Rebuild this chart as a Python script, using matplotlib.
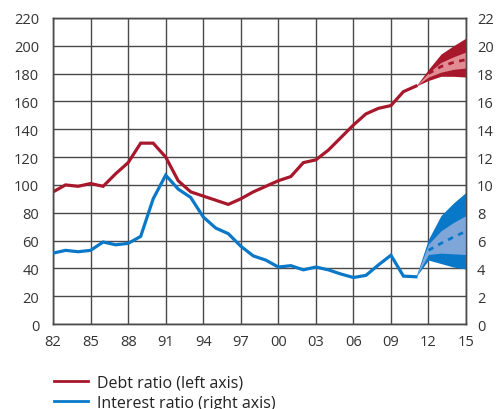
import matplotlib
matplotlib.use("Agg")
import matplotlib.pyplot as plt
from matplotlib.lines import Line2D

plt.rcParams['font.family'] = ['Open Sans', 'DejaVu Sans']

# historical data
years = list(range(1982, 2012))
debt = [95, 100, 99, 101, 99, 108, 116, 130, 130, 120, 103, 95, 92, 89, 86,
        90, 95, 99, 103, 106, 116, 118, 125, 134, 143, 151, 155, 157, 167, 171]
interest = [5.1, 5.3, 5.2, 5.3, 5.9, 5.7, 5.8, 6.3, 9.0, 10.7, 9.7, 9.1, 7.7, 6.9, 6.5,
            5.6, 4.9, 4.6, 4.1, 4.2, 3.9, 4.1, 3.9, 3.6, 3.35, 3.5, 4.25, 4.95, 3.45, 3.4]

# projections (fan), starting at 2011
fc_years = [2011, 2012, 2013, 2014, 2015]
debt_mid = [171, 180, 185, 188, 190]
debt_out_hi = [171, 183, 194, 200, 205.5]
debt_out_lo = [171, 175, 178, 178, 177.5]
debt_in_hi = [171, 180.5, 188, 192, 195.5]
debt_in_lo = [171, 177.5, 181, 183, 184]

int_mid = [3.4, 5.3, 5.8, 6.25, 6.67]
int_out_hi = [3.4, 6.1, 7.8, 8.7, 9.47]
int_out_lo = [3.4, 4.6, 4.35, 4.1, 3.96]
int_in_hi = [3.4, 5.75, 6.7, 7.3, 7.8]
int_in_lo = [3.4, 5.0, 5.1, 5.05, 5.0]

xticks = list(range(1982, 2016, 3))
xlabels = [str(y)[2:] for y in xticks]

red = '#a8182c'
red_light = '#e18b93'
blue = '#0a78c8'
blue_light = '#7fa6d8'
grid_c = '#4a4a4a'

fig = plt.figure(figsize=(4.96, 4.10), dpi=100)
ax = fig.add_axes([0.107, 0.207, 0.8325, 0.747])
ax2 = ax.twinx()

ax.set_xlim(1982, 2015)
ax.set_ylim(0, 220)
ax2.set_ylim(0, 22)
ax.set_yticks(range(0, 221, 20))
ax2.set_yticks(range(0, 23, 2))
ax.set_xticks(xticks)
ax.set_xticklabels(xlabels)

ax.grid(True, color=grid_c, linewidth=1.0)
ax.set_axisbelow(True)
for a in (ax, ax2):
    for s in a.spines.values():
        s.set_color(grid_c)
        s.set_linewidth(1.0)
    a.tick_params(length=0, labelsize=10.5, colors='#333333')
ax.tick_params(axis='y', pad=10)
ax2.tick_params(axis='y', pad=8)
ax.tick_params(axis='x', pad=7)

# debt (left axis)
ax.fill_between(fc_years, debt_out_lo, debt_out_hi, color=red, lw=0, zorder=2)
ax.fill_between(fc_years, debt_in_lo, debt_in_hi, color=red_light, lw=0, zorder=2)
ax.plot(years, debt, color=red, lw=2.3, zorder=3, solid_joinstyle='miter')
ax.plot(fc_years[1:], debt_mid[1:], color=red, lw=2.0, ls=(0, (2, 2)), zorder=3)

# interest (right axis)
ax2.fill_between(fc_years, int_out_lo, int_out_hi, color=blue, lw=0, zorder=2)
ax2.fill_between(fc_years, int_in_lo, int_in_hi, color=blue_light, lw=0, zorder=2)
ax2.plot(years, interest, color=blue, lw=2.3, zorder=3, solid_joinstyle='miter')
ax2.plot(fc_years[1:], int_mid[1:], color=blue, lw=2.0, ls=(0, (2, 2)), zorder=3)

handles = [Line2D([], [], color=red, lw=2),
           Line2D([], [], color=blue, lw=2)]
fig.legend(handles, ['Debt ratio (left axis)', 'Interest ratio (right axis)'],
           loc='upper left', bbox_to_anchor=(0.08, 0.12), frameon=False,
           fontsize=11.5, handlelength=2.1, handletextpad=0.6, labelspacing=0.3,
           labelcolor='#222222')

fig.savefig('out.png', dpi=100)
